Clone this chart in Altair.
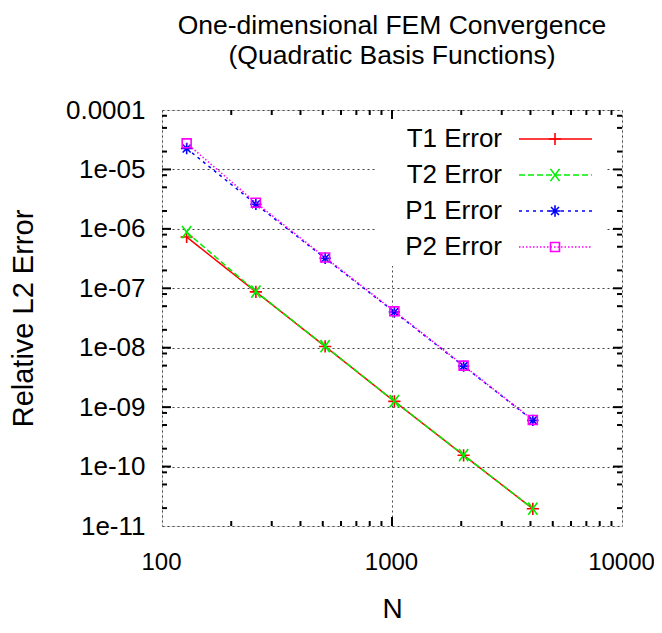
import altair as alt
import pandas as pd

# ---- data ----
N = [128, 256, 512, 1024, 2048, 4096]
T1 = [7.3e-7, 8.7e-8, 1.05e-8, 1.25e-9, 1.55e-10, 1.95e-11]
T2 = [8.8e-7, 8.8e-8, 1.06e-8, 1.26e-9, 1.56e-10, 1.96e-11]
P1 = [2.25e-5, 2.6e-6, 3.2e-7, 4.0e-8, 4.9e-9, 6.0e-10]
P2 = [2.75e-5, 2.75e-6, 3.3e-7, 4.1e-8, 5.0e-9, 6.1e-10]
SERIES = ["T1 Error", "T2 Error", "P1 Error", "P2 Error"]

X_TICKS = [100, 1000, 10000]
X_MINOR = [200, 300, 400, 500, 600, 700, 800, 900,
           2000, 3000, 4000, 5000, 6000, 7000, 8000, 9000]
Y_TICKS = [1e-11, 1e-10, 1e-9, 1e-8, 1e-7, 1e-6, 1e-5, 1e-4]
Y_TICK_LABELS = ["1e-11", "1e-10", "1e-09", "1e-08", "1e-07", "1e-06", "1e-05", "0.0001"]
Y_MINOR_MANT = [2, 5, 8]
Y_MINOR = [m * d for d in Y_TICKS[:-1] for m in Y_MINOR_MANT]

TITLE = ["One-dimensional FEM Convergence", "(Quadratic Basis Functions)"]
X_TITLE = "N"
Y_TITLE = "Relative L2 Error"

# ---- styling ----
F = "Liberation Sans Narrow, Liberation Sans, Arial, sans-serif"
FS = 26
W, H = 460, 416
COLORS = ["#ff0000", "#00ee00", "#0000ff", "#ff00ff"]
DASHES = [[1, 0], [6, 3], [3, 4], [1.5, 2]]
SHAPES = ["M-1,0L1,0M0,-1L0,1",
          "M-0.75,-1L0.75,1M-0.75,1L0.75,-1",
          "M-1,0L1,0M0,-1L0,1M-0.7,-0.7L0.7,0.7M-0.7,0.7L0.7,-0.7",
          "square"]
SIZES = [150, 150, 130, 80]

xs = alt.Scale(type="log", domain=[100, 10000], nice=False)
ys = alt.Scale(type="log", domain=[1e-11, 1e-4], nice=False)

label_arr = "[" + ",".join("'" + s + "'" for s in Y_TICK_LABELS) + "]"
xaxis = alt.Axis(values=X_TICKS, format="d", ticks=False, domain=False,
                 grid=True, gridDash=[2, 3], gridColor="#444", gridWidth=1,
                 labelFont=F, labelFontSize=24, labelColor="black", labelPadding=24,
                 labelOffset=-1,
                 labelFlush=False, labelOverlap=False, labelBound=False,
                 title=X_TITLE, titleFont=F, titleFontSize=28, titleFontWeight="normal",
                 titleColor="black", titleX=W / 2, titleY=83, titleBaseline="middle")
yaxis = alt.Axis(values=Y_TICKS, labelExpr=f"{label_arr}[round(log(datum.value)/LN10) + 11]",
                 ticks=False, domain=False,
                 grid=True, gridDash=[2, 3], gridColor="#444", gridWidth=1,
                 labelFont=F, labelFontSize=FS, labelColor="black", labelPadding=17,
                 labelFlush=False, labelOverlap=False, labelBound=False,
                 title=Y_TITLE, titleFont=F, titleFontSize=29, titleFontWeight="normal",
                 titleColor="black", titleX=-139, titleY=H / 2, titleBaseline="middle",
                 titleAlign="center", titleAngle=-90)

def X(field="N"):
    return alt.X(f"{field}:Q", scale=xs, axis=xaxis)

def Y(field="err"):
    return alt.Y(f"{field}:Q", scale=ys, axis=yaxis)

layers = []

# legend background (covers grid lines)
layers.append(alt.Chart(pd.DataFrame({"a": [0]})).mark_rect(color="white").encode(
    x=alt.value(215), x2=alt.value(443), y=alt.value(10), y2=alt.value(156)))

# data series
vals = [T1, T2, P1, P2]
for i, name in enumerate(SERIES):
    df = pd.DataFrame({"N": N, "err": vals[i]})
    base = alt.Chart(df).encode(x=X(), y=Y())
    layers.append(base.mark_line(color=COLORS[i], strokeWidth=1.5, strokeDash=DASHES[i]))
    layers.append(base.mark_point(shape=SHAPES[i], filled=False, size=SIZES[i],
                                  color=COLORS[i], strokeWidth=1.6, opacity=1))

# manual inward ticks on all four sides
xmaj = pd.DataFrame({"N": [1000]})
xmin = pd.DataFrame({"N": X_MINOR})
ymaj = pd.DataFrame({"err": Y_TICKS[1:-1]})
ymin = pd.DataFrame({"err": Y_MINOR})
for df, ln, wd in [(xmaj, 9, 2), (xmin, 5, 2)]:
    layers.append(alt.Chart(df).mark_rule(color="black", strokeWidth=wd).encode(
        x=X(), y=alt.value(H), y2=alt.value(H - ln)))
    layers.append(alt.Chart(df).mark_rule(color="black", strokeWidth=wd).encode(
        x=X(), y=alt.value(0), y2=alt.value(ln)))
for df, ln, wd in [(ymaj, 9, 2), (ymin, 5, 2)]:
    layers.append(alt.Chart(df).mark_rule(color="black", strokeWidth=wd).encode(
        y=Y(), x=alt.value(0), x2=alt.value(ln)))
    layers.append(alt.Chart(df).mark_rule(color="black", strokeWidth=wd).encode(
        y=Y(), x=alt.value(W), x2=alt.value(W - ln)))

# legend entries
ROW_Y = [29, 65, 101, 137]
for i, name in enumerate(SERIES):
    one = alt.Chart(pd.DataFrame({"s": [name]}))
    layers.append(one.mark_text(align="right", baseline="middle", font=F, fontSize=FS,
                                color="black", text=name).encode(
        x=alt.value(340), y=alt.value(ROW_Y[i])))
    layers.append(one.mark_rule(color=COLORS[i], strokeWidth=1.5, strokeDash=DASHES[i]).encode(
        x=alt.value(357), x2=alt.value(430), y=alt.value(ROW_Y[i])))
    layers.append(one.mark_point(shape=SHAPES[i], filled=False, size=SIZES[i],
                                 color=COLORS[i], strokeWidth=1.6, opacity=1).encode(
        x=alt.value(393), y=alt.value(ROW_Y[i])))

chart = alt.layer(*layers).properties(
    width=W, height=H,
    title=alt.TitleParams(text=TITLE, font=F, fontSize=26.5, fontWeight="normal",
                          color="black", anchor="middle", lineHeight=30, offset=28),
    autosize=alt.AutoSizeParams(type="none"),
    padding={"left": 154, "top": 102, "right": 32, "bottom": 99},
).configure_view(stroke="black", strokeWidth=3).configure(background="white")

chart.save("out.html", embed_options={"renderer": "svg", "actions": False})
